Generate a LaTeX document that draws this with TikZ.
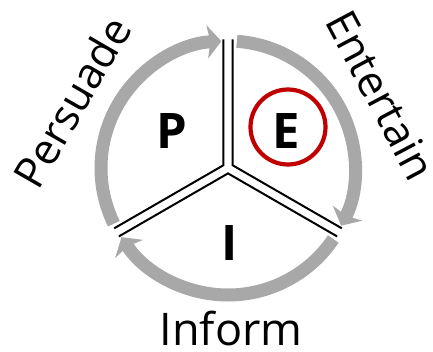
\documentclass[tikz,border=0pt]{standalone}
\usepackage{fontspec}
\setmainfont{Open Sans}
\usetikzlibrary{arrows.meta}
\definecolor{ringgray}{RGB}{168,168,168}
\definecolor{darkred}{RGB}{192,0,0}

\begin{document}
\begin{tikzpicture}[x=1pt,y=1pt,
    ring/.style={ringgray,line width=13pt,-{Stealth[length=14pt,width=33pt,inset=3pt]}},
    wedge/.style={line width=2pt,line join=miter},
    letter/.style={inner sep=0pt,font=\fontsize{49}{49}\selectfont\bfseries},
    goal/.style={inner sep=0pt,font=\fontsize{43}{43}\selectfont}]
      \useasboundingbox (-228,-183) rectangle (205,168);
      % the ring, one arrow for each part
      \draw[ring] (206:127) arc[start angle=206,end angle=93,radius=127pt];
      \draw[ring] (86:127) arc[start angle=86,end angle=-27,radius=127pt];
      \draw[ring] (-34:127) arc[start angle=-34,end angle=-147,radius=127pt];
      % the three parts
      \coordinate (v1) at (150:5.4);
      \coordinate (v2) at (30:5.4);
      \coordinate (v3) at (270:5.4);
      \draw[wedge] (v1) ++(90:126) -- (v1) -- ++(210:126);
      \draw[wedge] (v2) ++(90:126) -- (v2) -- ++(330:126);
      \draw[wedge] (v3) ++(210:126) -- (v3) -- ++(330:126);
      \node (P) [letter] at (-56,37) {P};
      \node (E) [letter] at (58,37) {E};
      \node (I) [letter] at (2,-75) {I};
      \node (Ering) [circle,draw=darkred,line width=4.2pt,minimum size=75pt,inner sep=0pt] at (60,41) {};
      \node (Pers) [goal,rotate=60] at (-156,66) {Persuade};
      \node (Ent) [goal,rotate=-62] at (153,73) {Entertain};
      \node (Inf) [goal,anchor=base,font=\fontsize{45}{45}\selectfont] at (3,-177) {Inform};
    \end{tikzpicture}
\end{document}
